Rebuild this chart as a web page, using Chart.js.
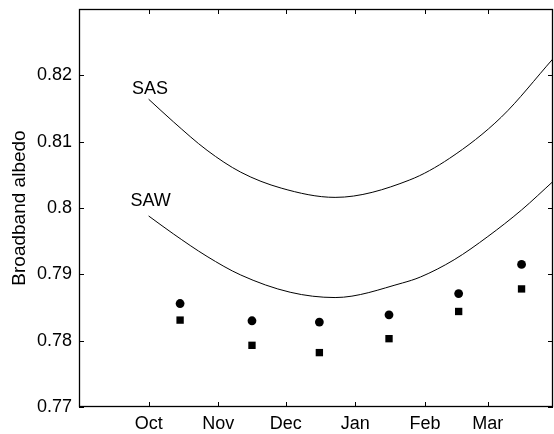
<!DOCTYPE html>
<html>
<head>
<meta charset="utf-8">
<script src="https://cdn.jsdelivr.net/npm/chart.js@4.4.0/dist/chart.umd.min.js"></script>
<style>
  html, body { margin: 0; padding: 0; background: #fff; }
  #wrap { width: 554px; height: 434px; }
</style>
</head>
<body>
<div id="wrap"><canvas id="albedoChart" width="554" height="434"></canvas></div>
<script>
// x = days since 1 Oct
const monthStarts = [0, 31, 61, 92, 123, 151];
const monthLabels = ['Oct', 'Nov', 'Dec', 'Jan', 'Feb', 'Mar'];
const yTicks = [0.77, 0.78, 0.79, 0.80, 0.81, 0.82];

const sasDays = [0, 11, 26, 41, 59, 83, 116, 134, 157, 180];
const sasVals = [0.8164, 0.8130, 0.8087, 0.8054, 0.8030, 0.8016, 0.8042, 0.8075, 0.8137, 0.8225];

const sawDays = [0, 11, 26, 41, 63, 83, 113, 121, 136, 151, 166, 180];
const sawVals = [0.7988, 0.7961, 0.7927, 0.7899, 0.7873, 0.7865, 0.7887, 0.7896, 0.7922, 0.7957, 0.7997, 0.8040];

const obsDays = [14, 46, 76, 107, 138, 166];
const circleVals = [0.7856, 0.7830, 0.7828, 0.7839, 0.7871, 0.7915];
const squareVals = [0.7831, 0.7793, 0.7782, 0.7803, 0.7844, 0.7878];

const curveLabels = [
  { text: 'SAS', x: 0.6, y: 0.8180 },
  { text: 'SAW', x: 0.9, y: 0.8010 }
];

const font = "'Liberation Sans', Arial, Helvetica, sans-serif";

const toXY = (xs, ys) => xs.map((x, i) => ({ x: x, y: ys[i] }));

// box, inward ticks and curve names (matlab style)
const frame = {
  id: 'frame',
  afterDraw(chart) {
    const { ctx, chartArea: a, scales: { x, y } } = chart;
    ctx.save();
    ctx.strokeStyle = '#000';
    ctx.lineWidth = 1;
    ctx.beginPath();
    monthStarts.forEach(v => {
      const px = Math.round(x.getPixelForValue(v)) + 0.5;
      ctx.moveTo(px, a.bottom); ctx.lineTo(px, a.bottom - 5);
      ctx.moveTo(px, a.top); ctx.lineTo(px, a.top + 5);
    });
    yTicks.forEach(v => {
      const py = Math.round(y.getPixelForValue(v)) + 0.5;
      ctx.moveTo(a.left, py); ctx.lineTo(a.left + 5, py);
      ctx.moveTo(a.right, py); ctx.lineTo(a.right - 5, py);
    });
    ctx.stroke();
    ctx.lineWidth = 1.3;
    ctx.strokeRect(a.left + 0.5, a.top + 0.5, a.right - a.left - 1, a.bottom - a.top - 1);

    ctx.fillStyle = '#000';
    ctx.font = '18px ' + font;
    ctx.textAlign = 'center';
    ctx.textBaseline = 'middle';
    curveLabels.forEach(l => {
      ctx.fillText(l.text, x.getPixelForValue(l.x), y.getPixelForValue(l.y));
    });
    ctx.restore();
  }
};

const ctx = document.getElementById('albedoChart').getContext('2d');
new Chart(ctx, {
  type: 'scatter',
  data: {
    datasets: [
      {
        label: 'SAS',
        type: 'line',
        data: toXY(sasDays, sasVals),
        borderColor: '#000',
        borderWidth: 1,
        pointRadius: 0,
        cubicInterpolationMode: 'monotone',
        fill: false
      },
      {
        label: 'SAW',
        type: 'line',
        data: toXY(sawDays, sawVals),
        borderColor: '#000',
        borderWidth: 1,
        pointRadius: 0,
        cubicInterpolationMode: 'monotone',
        fill: false
      },
      {
        label: 'circles',
        data: toXY(obsDays, circleVals),
        pointStyle: 'circle',
        pointRadius: 4.4,
        backgroundColor: '#000',
        borderWidth: 0
      },
      {
        label: 'squares',
        data: toXY(obsDays, squareVals),
        pointStyle: 'rect',
        pointRadius: 5.2,
        backgroundColor: '#000',
        borderWidth: 0
      }
    ]
  },
  options: {
    responsive: false,
    animation: false,
    layout: { autoPadding: false, padding: { top: 9, right: 1, left: 0, bottom: 0 } },
    plugins: {
      legend: { display: false },
      tooltip: { enabled: false }
    },
    scales: {
      x: {
        type: 'linear',
        min: -31,
        max: 180,
        grid: { display: false, drawTicks: false },
        border: { display: false },
        afterBuildTicks: s => { s.ticks = monthStarts.map(v => ({ value: v })); },
        afterFit: s => { s.height = 27; s.paddingLeft = 0; s.paddingRight = 0; },
        ticks: {
          color: '#000',
          font: { family: font, size: 18 },
          padding: 6,
          maxRotation: 0,
          autoSkip: false,
          callback: (v, i) => monthLabels[i]
        }
      },
      y: {
        min: 0.77,
        max: 0.83,
        grid: { display: false, drawTicks: false },
        border: { display: false },
        afterBuildTicks: s => { s.ticks = yTicks.map(v => ({ value: v })); },
        afterFit: s => { s.width = 79; s.paddingTop = 0; s.paddingBottom = 0; },
        ticks: {
          color: '#000',
          font: { family: font, size: 18 },
          padding: 7,
          callback: v => String(+v.toFixed(2))
        },
        title: {
          display: true,
          text: 'Broadband albedo',
          color: '#000',
          font: { family: font, size: 19 },
          padding: { top: 8, bottom: 0 }
        }
      }
    }
  },
  plugins: [frame]
});
</script>
</body>
</html>
